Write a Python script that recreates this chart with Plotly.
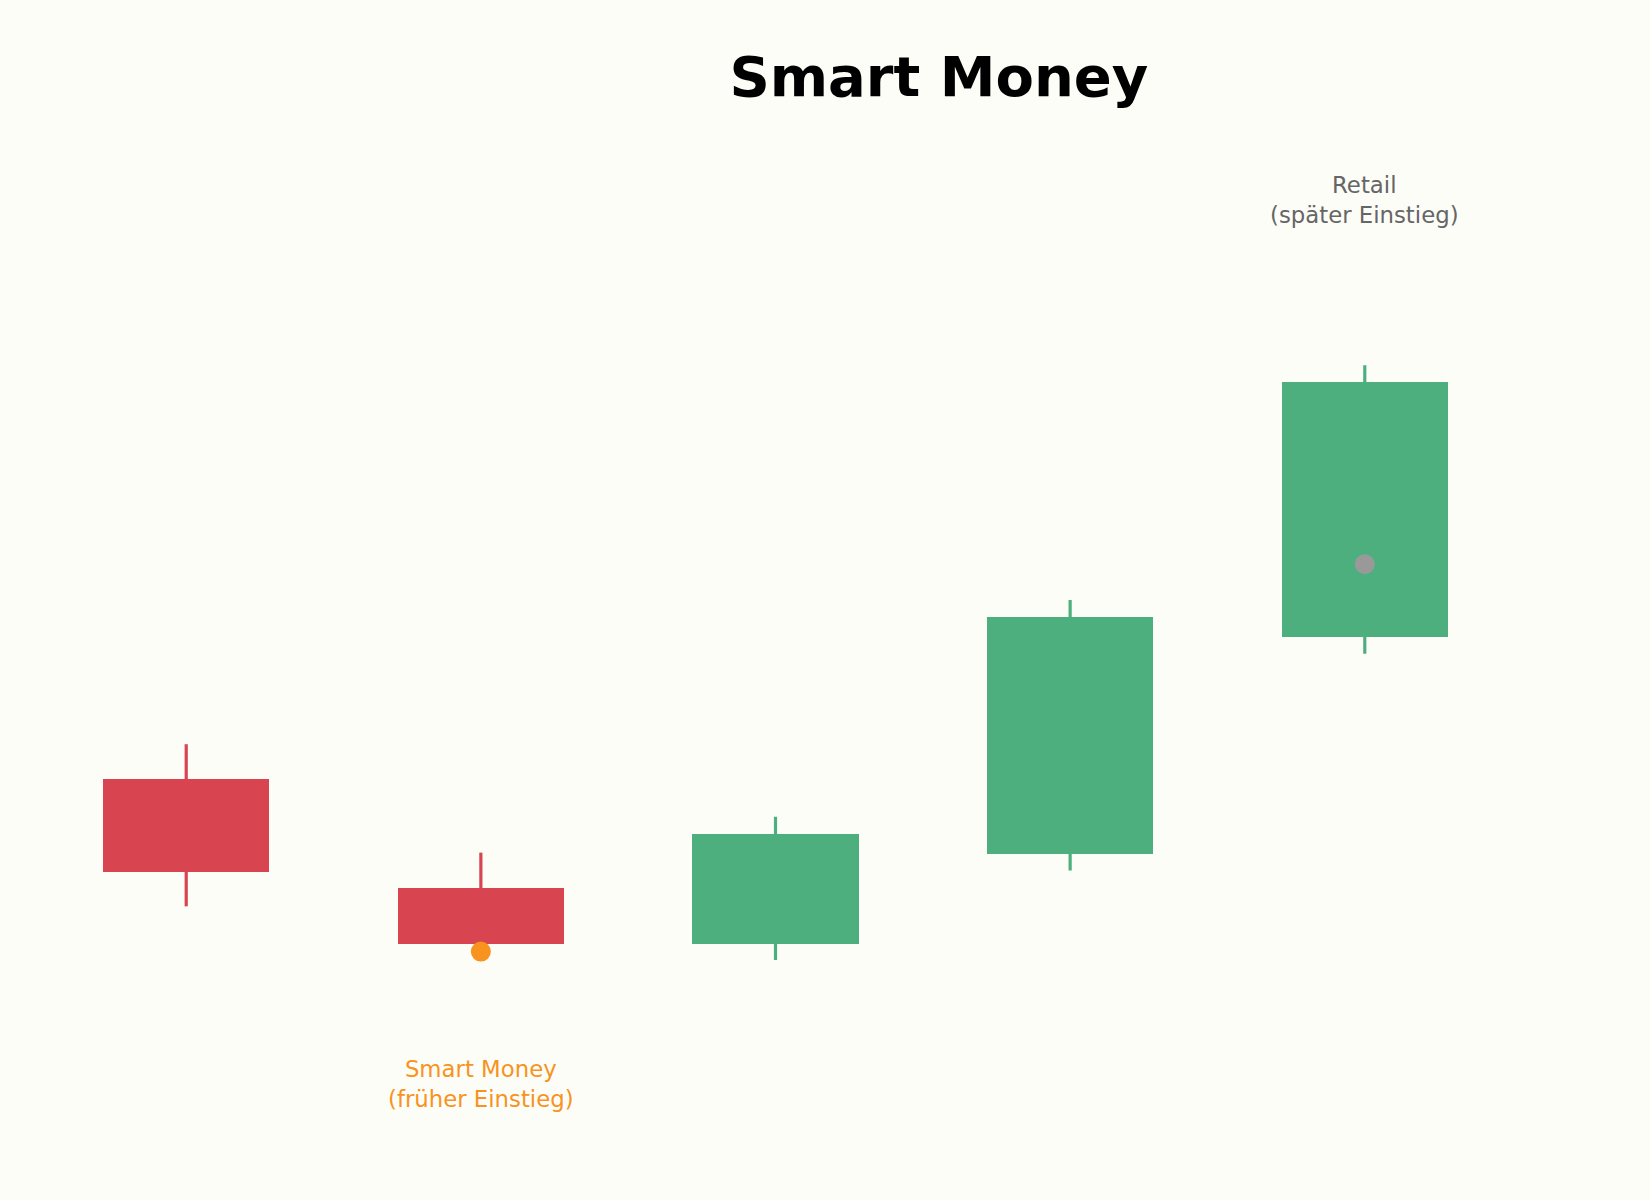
import plotly.graph_objects as go

# data
candles = [0, 1, 2, 3, 4]
opens = [26.0, 15.6, 10.3, 18.9, 39.5]
highs = [29.3, 19.0, 22.4, 43.0, 65.3]
lows = [13.9, 10.3, 8.8, 17.3, 37.9]
closes = [17.2, 10.3, 20.8, 41.4, 63.7]

smart_x = [1]
smart_y = [9.6]
retail_x = [4]
retail_y = [46.4]

smart_label = "Smart Money<br>(früher Einstieg)"
smart_label_y = -3.0
retail_label = "Retail<br>(später Einstieg)"
retail_label_y = 81.0
title_text = "Smart Money"

RED = "#D84550"
GREEN = "#4DAF7E"
ORANGE = "#F7931E"
GRAY = "#999999"
BG = "#FDFDF8"

fig = go.Figure()

# wicks
for i in candles:
    col = GREEN if closes[i] >= opens[i] else RED
    fig.add_trace(go.Scatter(x=[i, i], y=[lows[i], highs[i]], mode="lines",
                             line=dict(color=col, width=3.2), hoverinfo="skip",
                             showlegend=False))

# bodies
colors = [GREEN if c >= o else RED for o, c in zip(opens, closes)]
fig.add_trace(go.Bar(x=candles, y=[c - o for o, c in zip(opens, closes)], base=opens,
                     width=0.565, marker=dict(color=colors, line=dict(width=0)),
                     showlegend=False))

# entry points
fig.add_trace(go.Scatter(x=smart_x, y=smart_y, mode="markers",
                         marker=dict(color=ORANGE, size=20), showlegend=False))
fig.add_trace(go.Scatter(x=retail_x, y=retail_y, mode="markers",
                         marker=dict(color=GRAY, size=20), showlegend=False))

fig.add_annotation(x=smart_x[0], y=smart_label_y, text=smart_label, showarrow=False,
                   font=dict(family="DejaVu Sans", size=22.8, color=ORANGE), align="center")
fig.add_annotation(x=retail_x[0], y=retail_label_y, text=retail_label, showarrow=False,
                   font=dict(family="DejaVu Sans", size=22.8, color="#666666"), align="center")

fig.update_layout(
    width=1650, height=1200,
    margin=dict(l=0, r=0, t=0, b=0),
    paper_bgcolor=BG, plot_bgcolor=BG,
    title=dict(text="<b>" + title_text + "</b>", x=0.569, xanchor="center",
               y=1 - 73 / 1140, yanchor="middle",
               font=dict(family="DejaVu Sans", size=56, color="#000000")),
    xaxis=dict(range=[-0.632, 4.968], visible=False, fixedrange=True),
    yaxis=dict(range=[-14, 100], visible=False, fixedrange=True),
    bargap=0,
)

fig.write_html("out.html",
               config={"displayModeBar": False},
               post_script="document.body.style.margin='0';"
                           "document.body.style.background='#FDFDF8';")
